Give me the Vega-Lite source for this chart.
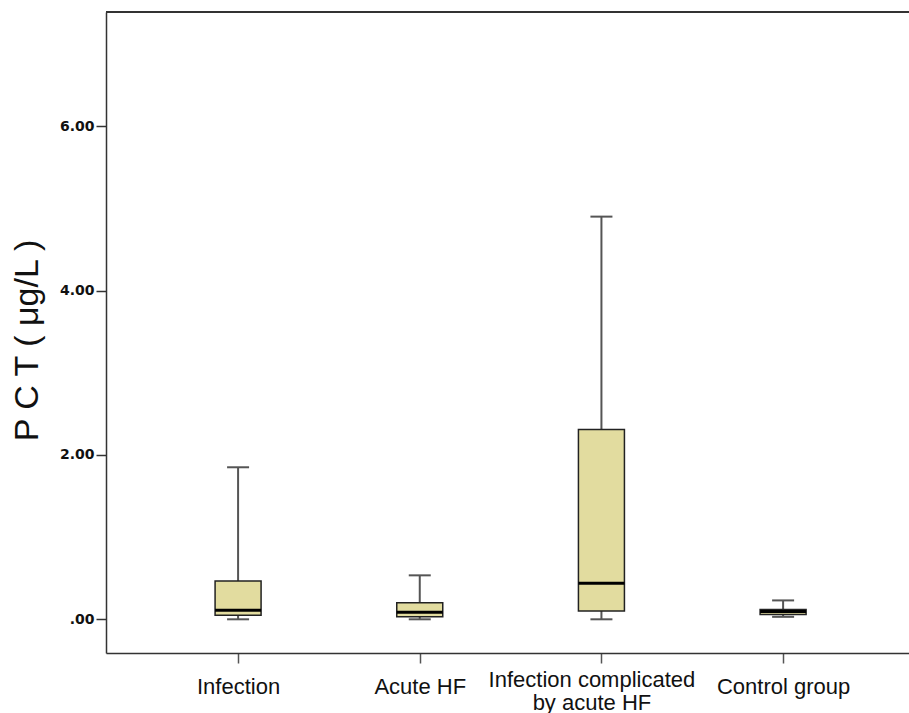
{
  "$schema": "https://vega.github.io/schema/vega-lite/v6.json",
  "width": 803,
  "height": 641,
  "autosize": "none",
  "padding": {"left": 106, "top": 12, "right": 0, "bottom": 60},
  "background": "white",
  "config": {"view": {"stroke": null}, "font": "Liberation Sans", "tick": {"opacity": 1}, "rule": {"opacity": 1},
    "axisY": {"labelFontSize": 14, "labelFont": "DejaVu Sans", "labelFontWeight": "bold"}},
  "data": {
    "values": [
      {"group": "Infection", "low": 0, "q1": 0.05, "median": 0.11, "q3": 0.466, "high": 1.85},
      {"group": "Acute HF", "low": 0, "q1": 0.03, "median": 0.085, "q3": 0.2, "high": 0.535},
      {"group": "Infection complicated by  acute HF", "low": 0, "q1": 0.1, "median": 0.44, "q3": 2.31, "high": 4.9},
      {"group": "Control group", "low": 0.03, "q1": 0.057, "median": 0.094, "q3": 0.12, "high": 0.23}
    ]
  },
  "layer": [
    {
      "mark": {"type": "rule", "color": "#555555", "strokeWidth": 2},
      "encoding": {
        "x": {
          "field": "group", "type": "nominal", "sort": null,
          "scale": {"type": "point", "padding": 0.71, "align": 0.512},
          "axis": {
            "title": null, "labelAngle": 0, "labelFontSize": 22, "labelColor": "#111111",
            "labelLimit": 400, "labelLineHeight": 23, "labelPadding": 23,
            "tickSize": 10, "tickColor": "#555555", "tickWidth": 1.5,
            "domainColor": "#333333", "domainWidth": 1.5, "grid": false,
            "labelBaseline": {"condition": {"test": "datum.value == 'Infection complicated by  acute HF'", "value": "alphabetic"}, "value": "middle"},
            "labelOffset": {"expr": "datum.value == 'Infection complicated by  acute HF' ? -10 : 0"},
            "labelExpr": "datum.value == 'Infection complicated by  acute HF' ? ['Infection complicated', 'by  acute HF'] : datum.label"
          }
        },
        "y": {
          "field": "low", "type": "quantitative", "title": "P C T ( μg/L )",
          "scale": {"domain": [-0.41, 7.39], "nice": false, "zero": false},
          "axis": {
            "values": [0, 2, 4, 6],
            "labelExpr": "datum.value == 0 ? '.00' : format(datum.value, '.2f')",
            "labelFont": "DejaVu Sans", "labelFontSize": 14, "labelFontWeight": "bold", "labelColor": "#111111", "labelPadding": 2,
            "tickSize": 10, "tickColor": "#333333", "tickWidth": 1.5,
            "domainColor": "#333333", "domainWidth": 1.5, "grid": false,
            "titleFontSize": 34, "titleFontWeight": "normal", "titleColor": "#111111",
            "titleAngle": 270, "titleX": -69, "titleY": 328, "titleAlign": "center", "titleBaseline": "alphabetic"
          }
        },
        "y2": {"field": "high"}
      }
    },
    {
      "mark": {"type": "tick", "color": "#555555", "size": 22, "thickness": 2, "opacity": 1},
      "encoding": {
        "x": {"field": "group", "type": "nominal", "sort": null},
        "y": {"field": "low", "type": "quantitative", "title": "P C T ( μg/L )"}
      }
    },
    {
      "mark": {"type": "tick", "color": "#555555", "size": 22, "thickness": 2, "opacity": 1},
      "encoding": {
        "x": {"field": "group", "type": "nominal", "sort": null},
        "y": {"field": "high", "type": "quantitative", "title": "P C T ( μg/L )"}
      }
    },
    {
      "mark": {"type": "bar", "width": 46, "fill": "#e2dc9f", "fillOpacity": 1, "stroke": "#222222", "strokeWidth": 1.5},
      "encoding": {
        "x": {"field": "group", "type": "nominal", "sort": null},
        "y": {"field": "q1", "type": "quantitative", "title": "P C T ( μg/L )"},
        "y2": {"field": "q3"}
      }
    },
    {
      "mark": {"type": "tick", "color": "#000000", "size": 46, "thickness": 3, "opacity": 1},
      "encoding": {
        "x": {"field": "group", "type": "nominal", "sort": null},
        "y": {"field": "median", "type": "quantitative", "title": "P C T ( μg/L )"}
      }
    },
    {
      "mark": {"type": "rule", "color": "#333333", "strokeWidth": 1.5},
      "encoding": {
        "y": {"datum": 7.39, "type": "quantitative", "title": "P C T ( μg/L )"}
      }
    }
  ]
}
